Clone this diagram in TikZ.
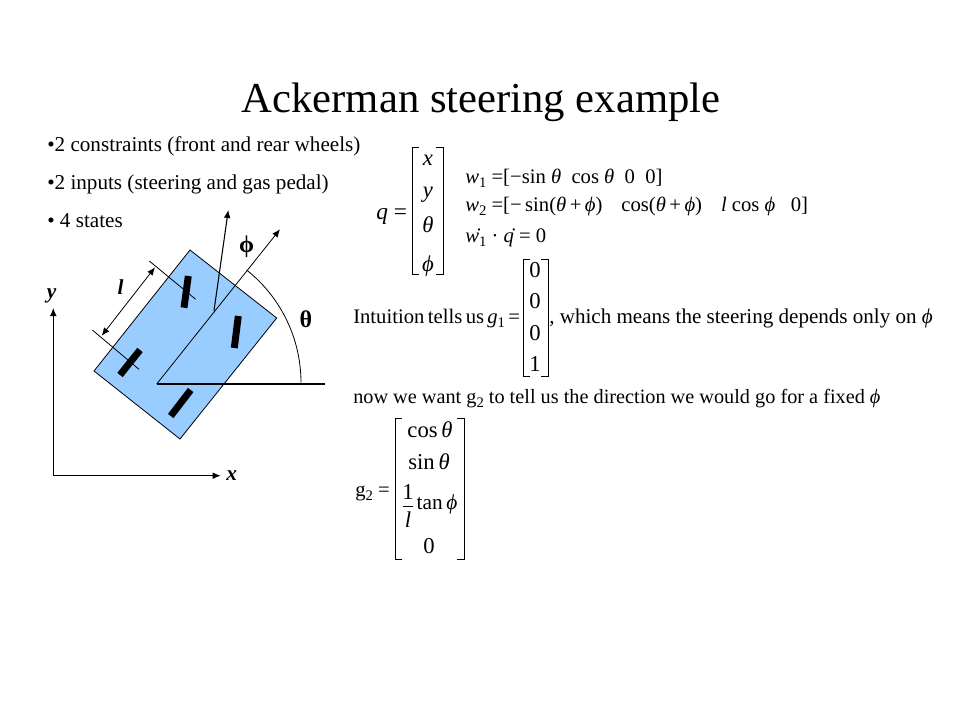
\documentclass[tikz,border=0pt]{standalone}
\usepackage{fontspec}
\usetikzlibrary{arrows.meta}
\setmainfont{Liberation Serif}
\definecolor{carblue}{HTML}{99CCFF}
\tikzset{
  txt/.style={anchor=base west, inner sep=0pt, font=\fontsize{15.85}{18}\selectfont},
  eqn/.style={anchor=base west, inner sep=0pt, font=\fontsize{15.5}{18}\selectfont},
  entry/.style={anchor=base, inner sep=0pt, font=\fontsize{17}{18}\selectfont},
  symb/.style={inner sep=0pt, font=\fontsize{16}{18}\selectfont\bfseries},
  greek/.style={inner sep=0pt, font=\fontsize{18}{18}\selectfont\bfseries},
  thinln/.style={line width=0.6pt},
  tip/.style={-{Latex[length=6pt,width=5pt]}},
  bothtip/.style={{Latex[length=6pt,width=5pt]}-{Latex[length=6pt,width=5pt]}},
  brk/.style={line width=0.6pt}
}
\newcommand{\vars}[1]{\textit{#1}}
\newcommand{\low}[1]{\raisebox{-3pt}{\fontsize{11}{11}\selectfont #1}}
\newcommand{\brackets}[4]{%
  \draw[brk] (#1+7,#2) -- (#1,#2) -- (#1,#4) -- (#1+7,#4);
  \draw[brk] (#3-7,#2) -- (#3,#2) -- (#3,#4) -- (#3-7,#4);}
\begin{document}
\begin{tikzpicture}[x=0.75pt, y=-0.75pt]
\useasboundingbox (0,0) rectangle (960,720);
% Title and bullets
\node[anchor=base, inner sep=0pt, font=\fontsize{32}{36}\selectfont] (title) at (481,113) {Ackerman steering example};
\node[txt] (constraints) at (47,152) {•2 constraints (front and rear wheels)};
\node[txt] (inputs) at (47,190) {•2 inputs (steering and gas pedal)};
\node[txt] (states) at (47,228) {• 4 states};

% Car body
\coordinate (origin) at (156.7,384);
\draw[fill=carblue, thinln] (190,250) -- (276.7,318) -- (180,439) -- (94,371) -- cycle;

% Wheels
\draw[line width=5.2pt] (188.3,276) -- (184,307.7);
\draw[line width=5.2pt] (238.3,316) -- (234.3,348);
\draw[line width=5.2pt] (140,350) -- (120,375);
\draw[line width=5.2pt] (190.7,390) -- (170.7,416);

% Heading and steering
\coordinate (axle) at (214,310.7);
\coordinate (headtip) at (280,229.3);
\coordinate (steertip) at (228.3,210);
\coordinate (xend) at (325,384);
\draw[thinln, tip] (origin) -- (headtip);
\draw[line width=0.8pt, tip] (axle) -- (steertip);
\draw[line width=0.8pt] (origin) -- (xend);
\draw[thinln] (301,382.7) arc[start angle=0, end angle=-51.5, radius=144];

% Wheelbase
\draw[thinln] (149.3,261) -- (195.7,299.3);
\draw[thinln] (92.3,330) -- (139,369.3);
\draw[thinln, bothtip] (155,267.3) -- (101.7,335.7);

% Axes
\coordinate (corner) at (53.3,475.7);
\coordinate (ytip) at (53.3,308);
\coordinate (xtip) at (220.7,475.7);
\draw[line width=0.8pt, tip] (corner) -- (ytip);
\draw[line width=0.8pt, tip] (corner) -- (xtip);
\node[symb] (ylabel) at (51.7,296) {\textit{y}};
\node[symb] (xlabel) at (231.7,476) {\textit{x}};
\node[symb] (llabel) at (120.7,287) {\textit{l}};
\node[greek] (philabel) at (246.7,247) {ϕ};
\node[greek] (thetalabel) at (306,319.3) {θ};

% State vector
\node[eqn, font=\fontsize{17.5}{18}\selectfont] (qeq) at (376,220) {\vars{q} =};
\brackets{412}{147}{443}{274}
\node[entry] (qx) at (428,166) {\vars{x}};
\node[entry] (qy) at (428,198) {\vars{y}};
\node[entry] (qtheta) at (428,233) {\vars{θ}};
\node[entry] (qphi) at (428,272) {\vars{ϕ}};

% Constraints
\node[eqn] (w1) at (465,184) {\vars{w}\low{1} =[−sin \vars{θ}\ \ cos \vars{θ}\ \ 0\ \ 0]};
\node[eqn] (w2) at (465,212) {\vars{w}\low{2} =[−\,sin(\vars{θ}\,+\,\vars{ϕ})\ \ \ \,cos(\vars{θ}\,+\,\vars{ϕ})\ \ \ \,\vars{l} cos \vars{ϕ}\ \ \ 0]};
\node[eqn] (w3) at (465,243) {\.{\vars{w}}\low{1} · \.{\vars{q}} = 0};

% g1
\node[eqn] (intuition) at (353,323) {Intuition\,tells\,us};
\node[eqn] (g1eq) at (487,323) {\vars{g}\low{1}\,=};
\brackets{523}{259}{548}{376}
\node[entry] (ga) at (535,278) {0};
\node[entry] (gb) at (535,309) {0};
\node[entry] (gc) at (535,340) {0};
\node[entry] (gd) at (535,371) {1};
\node[eqn, font=\fontsize{15.8}{18}\selectfont] (which) at (549,323) {, which means the steering depends only on \vars{ϕ}};

% g2
\node[eqn, font=\fontsize{15.2}{18}\selectfont] (want) at (353,403) {now we want g\low{2} to tell us the direction we would go for a fixed \vars{ϕ}};
\node[eqn] (g2eq) at (355,496) {g\low{2} =};
\brackets{395}{418}{464}{559}
\node[entry] (cosrow) at (430,437) {cos\,\vars{θ}};
\node[entry] (sinrow) at (429,469) {sin\,\vars{θ}};
\node[entry] (one) at (408,499) {1};
\draw[thinln] (403,506) -- (413,506);
\node[entry] (ell) at (408,527) {\vars{l}};
\node[entry, font=\fontsize{16}{18}\selectfont] (tanrow) at (437,509) {tan\,\vars{ϕ}};
\node[entry] (zerorow) at (429,553) {0};
\end{tikzpicture}
\end{document}
